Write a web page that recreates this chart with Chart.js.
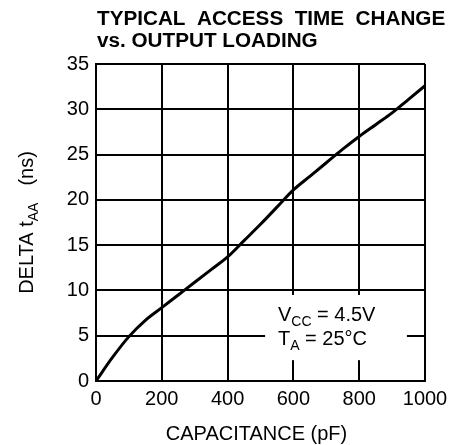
<!DOCTYPE html>
<html lang="en">
<head>
    <meta charset="UTF-8">
    <script src="https://cdn.jsdelivr.net/npm/chart.js@4/dist/chart.umd.min.js"></script>
    <title>Typical Access Time Change vs. Output Loading</title>
    <style>
        body { margin: 0; background: #fff; }
        canvas { display: block; }
    </style>
</head>
<body>
    <canvas id="accessChart" width="457" height="445"></canvas>
    <script>
        // capacitance (pF) and delta tAA (ns)
        const capacitance = [0, 50, 100, 150, 200, 250, 300, 350, 400, 450, 500, 550, 600, 650, 700, 750, 800, 850, 900, 950, 1000];
        const deltaTaa = [0, 2.6, 4.9, 6.7, 8.1, 9.5, 10.9, 12.3, 13.7, 15.5, 17.3, 19.2, 21.1, 22.6, 24.1, 25.6, 27.0, 28.3, 29.6, 31.1, 32.6];
        const xTicks = [0, 200, 400, 600, 800, 1000];
        const yTicks = [0, 5, 10, 15, 20, 25, 30, 35];
        const titleLines = ["TYPICAL  ACCESS  TIME  CHANGE", "vs. OUTPUT LOADING"];

        const FONT = '"Liberation Sans", Arial, Helvetica, sans-serif';

        // title, axis labels with subscripts and the conditions box
        const textPlugin = {
            id: 'textPlugin',
            afterDatasetsDraw(chart) {
                const ctx = chart.ctx;
                const x = chart.scales.x;
                const y = chart.scales.y;
                const area = chart.chartArea;
                ctx.save();
                ctx.fillStyle = '#000';
                ctx.textBaseline = 'alphabetic';
                ctx.textAlign = 'left';

                // title
                ctx.font = 'bold 20.7px ' + FONT;
                ctx.fillText(titleLines[0], area.left + 1, 25);
                ctx.fillText(titleLines[1], area.left + 1, 47);

                // conditions box
                const bx1 = x.getPixelForValue(514), bx2 = x.getPixelForValue(945);
                const by1 = y.getPixelForValue(9.5), by2 = y.getPixelForValue(2.3);
                ctx.fillStyle = '#fff';
                ctx.fillRect(bx1, by1, bx2 - bx1, by2 - by1);
                ctx.fillStyle = '#000';
                let tx = x.getPixelForValue(553);
                let ty = y.getPixelForValue(6.6);
                ctx.font = '20px ' + FONT;
                ctx.fillText('V', tx, ty);
                let w = ctx.measureText('V').width;
                ctx.font = '14px ' + FONT;
                ctx.fillText('CC', tx + w, ty + 5);
                w += ctx.measureText('CC').width;
                ctx.font = '20px ' + FONT;
                ctx.fillText(' = 4.5V', tx + w, ty);

                ty = y.getPixelForValue(4.0);
                ctx.fillText('T', tx, ty);
                w = ctx.measureText('T').width;
                ctx.font = '14px ' + FONT;
                ctx.fillText('A', tx + w, ty + 5);
                w += ctx.measureText('A').width;
                ctx.font = '20px ' + FONT;
                ctx.fillText(' = 25\u00B0C', tx + w, ty);

                // x axis title
                ctx.textAlign = 'center';
                ctx.fillText('CAPACITANCE (pF)', (area.left + area.right) / 2 - 4, 440);

                // y axis title, rotated, with subscript
                ctx.translate(33, (area.top + area.bottom) / 2);
                ctx.rotate(-Math.PI / 2);
                ctx.textAlign = 'left';
                ctx.font = '20px ' + FONT;
                const p1 = 'DELTA t';
                const p3 = '(ns)';
                const w1 = ctx.measureText(p1).width;
                const w3 = ctx.measureText(p3).width;
                ctx.font = '14px ' + FONT;
                const w2 = ctx.measureText('AA').width;
                const gap = 17;
                const total = w1 + w2 + gap + w3;
                let px = -total / 2;
                ctx.font = '20px ' + FONT;
                ctx.fillText(p1, px, 0);
                px += w1;
                ctx.font = '14px ' + FONT;
                ctx.fillText('AA', px, 5);
                px += w2 + gap;
                ctx.font = '20px ' + FONT;
                ctx.fillText(p3, px, 0);
                ctx.restore();
            }
        };

        new Chart('accessChart', {
            type: 'line',
            data: {
                datasets: [{
                    data: capacitance.map((c, i) => ({ x: c, y: deltaTaa[i] })),
                    borderColor: '#000',
                    borderWidth: 3,
                    pointRadius: 0,
                    cubicInterpolationMode: 'monotone',
                    fill: false
                }]
            },
            options: {
                responsive: false,
                animation: false,
                layout: { padding: { top: 64, right: 32, left: 0, bottom: 0 } },
                plugins: {
                    legend: { display: false },
                    tooltip: { enabled: false },
                    title: { display: false }
                },
                scales: {
                    x: {
                        type: 'linear',
                        min: 0,
                        max: 1000,
                        afterBuildTicks: (scale) => { scale.ticks = xTicks.map(v => ({ value: v })); },
                        afterFit: (scale) => { scale.height = 64; },
                        ticks: { color: '#000', padding: 6, maxRotation: 0, font: { family: FONT, size: 20 }, callback: (v) => String(v) },
                        grid: { color: '#000', lineWidth: 2, drawTicks: false },
                        border: { color: '#000', width: 2 }
                    },
                    y: {
                        min: 0,
                        max: 35,
                        afterBuildTicks: (scale) => { scale.ticks = yTicks.map(v => ({ value: v })); },
                        afterFit: (scale) => { scale.width = 96; },
                        ticks: { color: '#000', padding: 7, font: { family: FONT, size: 20 }, callback: (v) => String(v) },
                        grid: { color: '#000', lineWidth: 2, drawTicks: false },
                        border: { color: '#000', width: 2 }
                    }
                }
            },
            plugins: [textPlugin]
        });
    </script>
</body>
</html>
